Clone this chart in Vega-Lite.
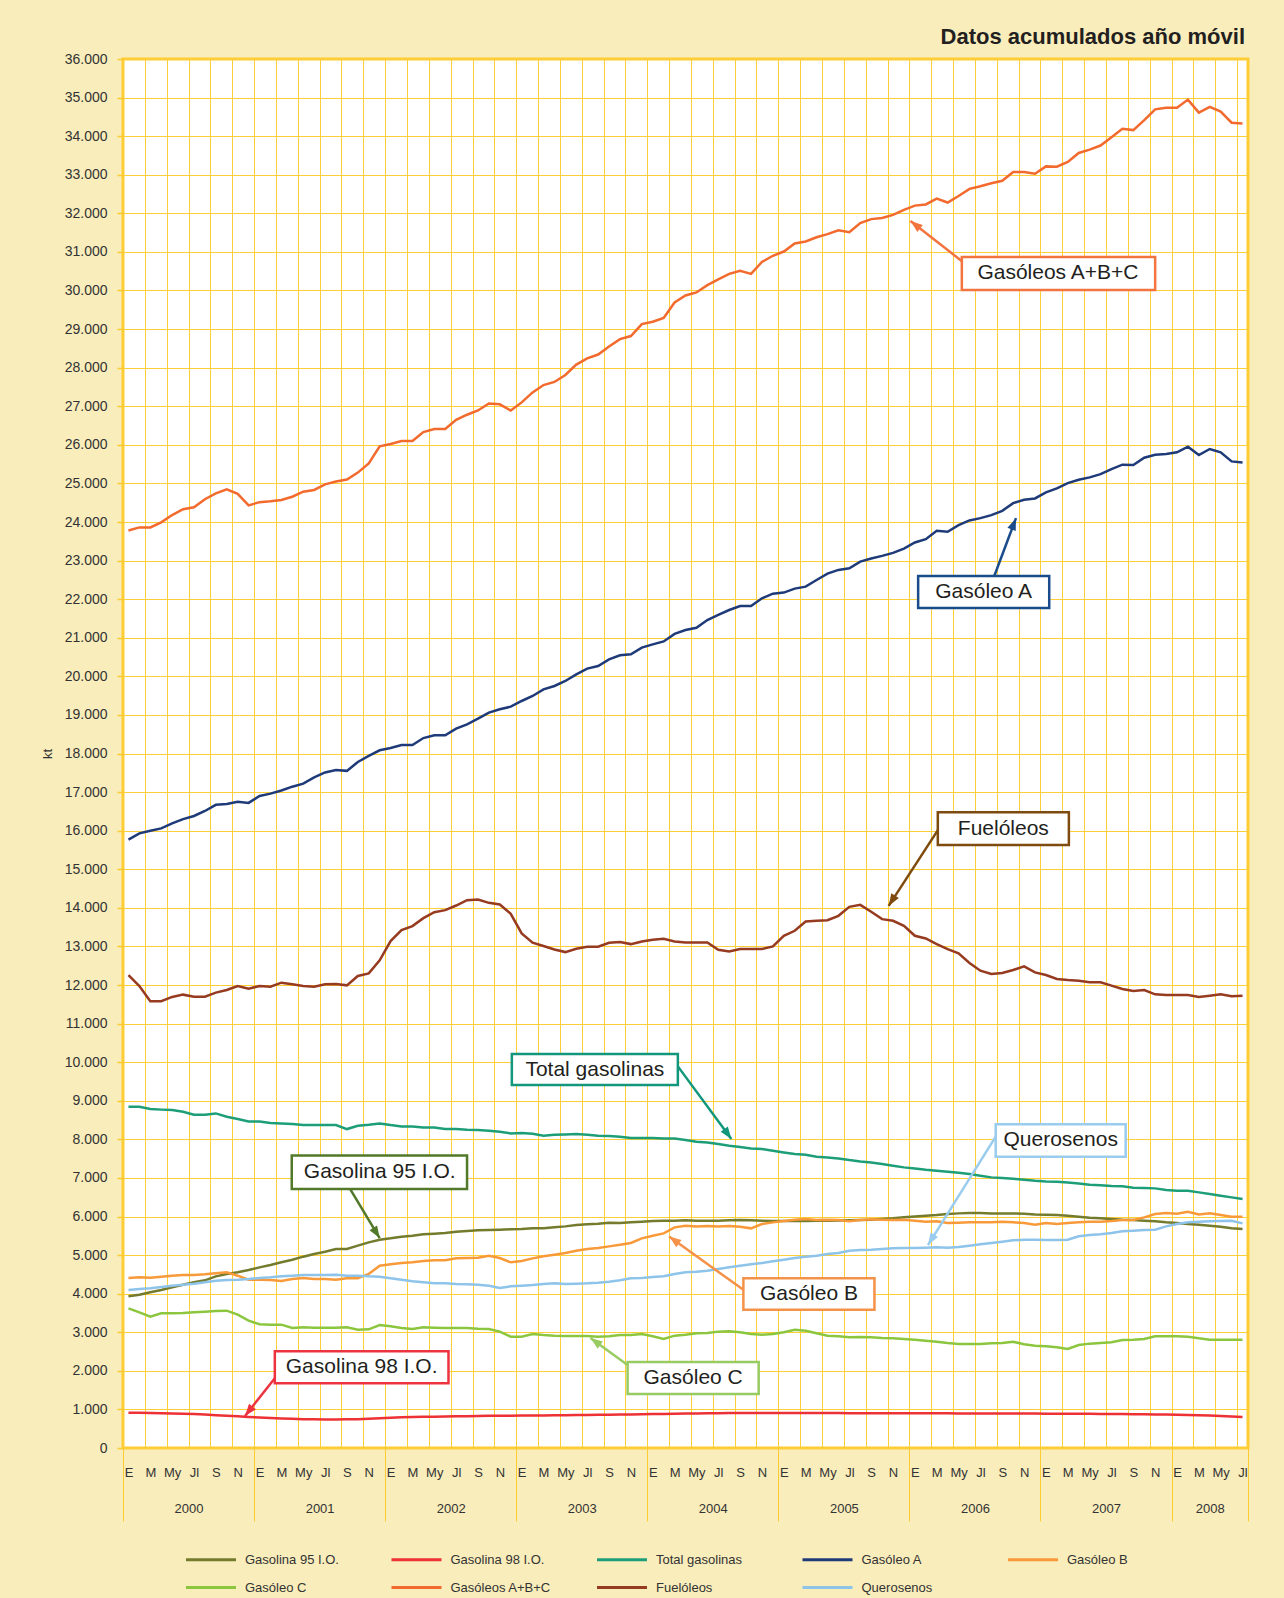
{
"$schema": "https://vega.github.io/schema/vega-lite/v6.json",
"width": 1125,
"height": 1389,
"autosize": {"type": "none"},
"padding": {"left": 123, "top": 59, "right": 36, "bottom": 150},
"background": "#F9EDBB",
"title": {"text": "Datos acumulados año móvil", "anchor": "end", "frame": "group", "font": "Liberation Sans", "fontSize": 22, "fontWeight": "bold", "color": "#231F20", "offset": 3, "dx": -3},
"config": {
  "view": {"fill": "white", "stroke": "#FFCC33", "strokeWidth": 3},
  "axis": {"labelFont": "Liberation Sans", "titleFont": "Liberation Sans", "labelColor": "#333333", "titleColor": "#333333"}
},
"datasets": {
"names": [
{"s":"g95","name":"Gasolina 95 I.O."},{"s":"g98","name":"Gasolina 98 I.O."},{"s":"tg","name":"Total gasolinas"},{"s":"ga","name":"Gasóleo A"},{"s":"gb","name":"Gasóleo B"},{"s":"gc","name":"Gasóleo C"},{"s":"abc","name":"Gasóleos A+B+C"},{"s":"fo","name":"Fuelóleos"},{"s":"q","name":"Querosenos"}
],
"notes": [
{"s":"abc","label":"Gasóleos A+B+C","bx0":76.3,"bx1":94.0,"by0":30010,"by1":30870,"tx":85.1,"ty":30450,"ax":76.4,"ay":30740,"hx":71.6,"hy":31800,"ang":307.7},
{"s":"ga","label":"Gasóleo A","bx0":72.3,"bx1":84.3,"by0":21770,"by1":22600,"tx":78.3,"ty":22190,"ax":79.2,"ay":22550,"hx":81.26,"hy":24100,"ang":21.5},
{"s":"fo","label":"Fuelóleos","bx0":74.1,"bx1":86.1,"by0":15630,"by1":16480,"tx":80.1,"ty":16040,"ax":74.3,"ay":16100,"hx":69.6,"hy":14050,"ang":212},
{"s":"tg","label":"Total gasolinas","bx0":35.1,"bx1":50.3,"by0":9410,"by1":10210,"tx":42.7,"ty":9800,"ax":50.2,"ay":9930,"hx":55.2,"hy":8010,"ang":144},
{"s":"q","label":"Querosenos","bx0":79.4,"bx1":91.3,"by0":7550,"by1":8390,"tx":85.35,"ty":7970,"ax":79.4,"ay":8070,"hx":73.2,"hy":5260,"ang":211.6},
{"s":"gb","label":"Gasóleo B","bx0":56.3,"bx1":68.3,"by0":3580,"by1":4400,"tx":62.3,"ty":3990,"ax":56.3,"ay":4100,"hx":49.5,"hy":5480,"ang":306},
{"s":"g95","label":"Gasolina 95 I.O.","bx0":14.95,"bx1":31.0,"by0":6710,"by1":7580,"tx":23.0,"ty":7150,"ax":20.3,"ay":6710,"hx":23.0,"hy":5440,"ang":148.3},
{"s":"g98","label":"Gasolina 98 I.O.","bx0":13.4,"bx1":29.3,"by0":1680,"by1":2510,"tx":21.35,"ty":2100,"ax":13.4,"ay":1810,"hx":10.67,"hy":830,"ang":218.3},
{"s":"gc","label":"Gasóleo C","bx0":45.7,"bx1":57.7,"by0":1400,"by1":2230,"tx":51.7,"ty":1810,"ax":45.7,"ay":2150,"hx":42.3,"hy":2850,"ang":305.8}
],
"lines": [
{"i":0,"s":"g95","v":3931},{"i":1,"s":"g95","v":3974},{"i":2,"s":"g95","v":4035},{"i":3,"s":"g95","v":4095},{"i":4,"s":"g95","v":4164},{"i":5,"s":"g95","v":4233},{"i":6,"s":"g95","v":4294},{"i":7,"s":"g95","v":4346},{"i":8,"s":"g95","v":4449},{"i":9,"s":"g95","v":4510},
{"i":10,"s":"g95","v":4553},{"i":11,"s":"g95","v":4613},{"i":12,"s":"g95","v":4682},{"i":13,"s":"g95","v":4743},{"i":14,"s":"g95","v":4812},{"i":15,"s":"g95","v":4881},{"i":16,"s":"g95","v":4959},{"i":17,"s":"g95","v":5028},{"i":18,"s":"g95","v":5088},{"i":19,"s":"g95","v":5157},
{"i":20,"s":"g95","v":5157},{"i":21,"s":"g95","v":5244},{"i":22,"s":"g95","v":5330},{"i":23,"s":"g95","v":5399},{"i":24,"s":"g95","v":5434},{"i":25,"s":"g95","v":5477},{"i":26,"s":"g95","v":5503},{"i":27,"s":"g95","v":5537},{"i":28,"s":"g95","v":5554},{"i":29,"s":"g95","v":5572},
{"i":30,"s":"g95","v":5606},{"i":31,"s":"g95","v":5624},{"i":32,"s":"g95","v":5641},{"i":33,"s":"g95","v":5650},{"i":34,"s":"g95","v":5658},{"i":35,"s":"g95","v":5667},{"i":36,"s":"g95","v":5675},{"i":37,"s":"g95","v":5693},{"i":38,"s":"g95","v":5693},{"i":39,"s":"g95","v":5719},
{"i":40,"s":"g95","v":5744},{"i":41,"s":"g95","v":5779},{"i":42,"s":"g95","v":5796},{"i":43,"s":"g95","v":5813},{"i":44,"s":"g95","v":5839},{"i":45,"s":"g95","v":5831},{"i":46,"s":"g95","v":5848},{"i":47,"s":"g95","v":5865},{"i":48,"s":"g95","v":5883},{"i":49,"s":"g95","v":5891},
{"i":50,"s":"g95","v":5891},{"i":51,"s":"g95","v":5900},{"i":52,"s":"g95","v":5891},{"i":53,"s":"g95","v":5891},{"i":54,"s":"g95","v":5891},{"i":55,"s":"g95","v":5900},{"i":56,"s":"g95","v":5908},{"i":57,"s":"g95","v":5900},{"i":58,"s":"g95","v":5891},{"i":59,"s":"g95","v":5885},
{"i":60,"s":"g95","v":5883},{"i":61,"s":"g95","v":5883},{"i":62,"s":"g95","v":5883},{"i":63,"s":"g95","v":5887},{"i":64,"s":"g95","v":5891},{"i":65,"s":"g95","v":5895},{"i":66,"s":"g95","v":5900},{"i":67,"s":"g95","v":5908},{"i":68,"s":"g95","v":5917},{"i":69,"s":"g95","v":5935},
{"i":70,"s":"g95","v":5952},{"i":71,"s":"g95","v":5978},{"i":72,"s":"g95","v":6003},{"i":73,"s":"g95","v":6021},{"i":74,"s":"g95","v":6038},{"i":75,"s":"g95","v":6064},{"i":76,"s":"g95","v":6081},{"i":77,"s":"g95","v":6090},{"i":78,"s":"g95","v":6090},{"i":79,"s":"g95","v":6081},
{"i":80,"s":"g95","v":6081},{"i":81,"s":"g95","v":6081},{"i":82,"s":"g95","v":6073},{"i":83,"s":"g95","v":6055},{"i":84,"s":"g95","v":6047},{"i":85,"s":"g95","v":6038},{"i":86,"s":"g95","v":6021},{"i":87,"s":"g95","v":5995},{"i":88,"s":"g95","v":5969},{"i":89,"s":"g95","v":5952},
{"i":90,"s":"g95","v":5935},{"i":91,"s":"g95","v":5917},{"i":92,"s":"g95","v":5908},{"i":93,"s":"g95","v":5891},{"i":94,"s":"g95","v":5874},{"i":95,"s":"g95","v":5848},{"i":96,"s":"g95","v":5831},{"i":97,"s":"g95","v":5805},{"i":98,"s":"g95","v":5788},{"i":99,"s":"g95","v":5762},
{"i":100,"s":"g95","v":5736},{"i":101,"s":"g95","v":5693},{"i":102,"s":"g95","v":5675},
{"i":0,"s":"g98","v":915},{"i":1,"s":"g98","v":912},{"i":2,"s":"g98","v":908},{"i":3,"s":"g98","v":902},{"i":4,"s":"g98","v":895},{"i":5,"s":"g98","v":888},{"i":6,"s":"g98","v":878},{"i":7,"s":"g98","v":866},{"i":8,"s":"g98","v":852},{"i":9,"s":"g98","v":838},
{"i":10,"s":"g98","v":822},{"i":11,"s":"g98","v":805},{"i":12,"s":"g98","v":790},{"i":13,"s":"g98","v":778},{"i":14,"s":"g98","v":765},{"i":15,"s":"g98","v":755},{"i":16,"s":"g98","v":748},{"i":17,"s":"g98","v":743},{"i":18,"s":"g98","v":740},{"i":19,"s":"g98","v":740},
{"i":20,"s":"g98","v":742},{"i":21,"s":"g98","v":745},{"i":22,"s":"g98","v":755},{"i":23,"s":"g98","v":770},{"i":24,"s":"g98","v":785},{"i":25,"s":"g98","v":795},{"i":26,"s":"g98","v":802},{"i":27,"s":"g98","v":808},{"i":28,"s":"g98","v":813},{"i":29,"s":"g98","v":818},
{"i":30,"s":"g98","v":822},{"i":31,"s":"g98","v":826},{"i":32,"s":"g98","v":830},{"i":33,"s":"g98","v":833},{"i":34,"s":"g98","v":836},{"i":35,"s":"g98","v":838},{"i":36,"s":"g98","v":840},{"i":37,"s":"g98","v":842},{"i":38,"s":"g98","v":845},{"i":39,"s":"g98","v":848},
{"i":40,"s":"g98","v":850},{"i":41,"s":"g98","v":853},{"i":42,"s":"g98","v":856},{"i":43,"s":"g98","v":860},{"i":44,"s":"g98","v":863},{"i":45,"s":"g98","v":867},{"i":46,"s":"g98","v":871},{"i":47,"s":"g98","v":875},{"i":48,"s":"g98","v":880},{"i":49,"s":"g98","v":884},
{"i":50,"s":"g98","v":888},{"i":51,"s":"g98","v":892},{"i":52,"s":"g98","v":896},{"i":53,"s":"g98","v":899},{"i":54,"s":"g98","v":902},{"i":55,"s":"g98","v":904},{"i":56,"s":"g98","v":905},{"i":57,"s":"g98","v":906},{"i":58,"s":"g98","v":906},{"i":59,"s":"g98","v":906},
{"i":60,"s":"g98","v":906},{"i":61,"s":"g98","v":905},{"i":62,"s":"g98","v":905},{"i":63,"s":"g98","v":905},{"i":64,"s":"g98","v":904},{"i":65,"s":"g98","v":904},{"i":66,"s":"g98","v":903},{"i":67,"s":"g98","v":903},{"i":68,"s":"g98","v":902},{"i":69,"s":"g98","v":902},
{"i":70,"s":"g98","v":901},{"i":71,"s":"g98","v":900},{"i":72,"s":"g98","v":900},{"i":73,"s":"g98","v":899},{"i":74,"s":"g98","v":898},{"i":75,"s":"g98","v":898},{"i":76,"s":"g98","v":897},{"i":77,"s":"g98","v":896},{"i":78,"s":"g98","v":895},{"i":79,"s":"g98","v":895},
{"i":80,"s":"g98","v":894},{"i":81,"s":"g98","v":893},{"i":82,"s":"g98","v":892},{"i":83,"s":"g98","v":891},{"i":84,"s":"g98","v":890},{"i":85,"s":"g98","v":889},{"i":86,"s":"g98","v":888},{"i":87,"s":"g98","v":887},{"i":88,"s":"g98","v":886},{"i":89,"s":"g98","v":884},
{"i":90,"s":"g98","v":882},{"i":91,"s":"g98","v":880},{"i":92,"s":"g98","v":877},{"i":93,"s":"g98","v":874},{"i":94,"s":"g98","v":870},{"i":95,"s":"g98","v":866},{"i":96,"s":"g98","v":861},{"i":97,"s":"g98","v":855},{"i":98,"s":"g98","v":848},{"i":99,"s":"g98","v":840},
{"i":100,"s":"g98","v":830},{"i":101,"s":"g98","v":818},{"i":102,"s":"g98","v":805},
{"i":0,"s":"tg","v":8845},{"i":1,"s":"tg","v":8845},{"i":2,"s":"tg","v":8784},{"i":3,"s":"tg","v":8770},{"i":4,"s":"tg","v":8758},{"i":5,"s":"tg","v":8715},{"i":6,"s":"tg","v":8637},{"i":7,"s":"tg","v":8637},{"i":8,"s":"tg","v":8672},{"i":9,"s":"tg","v":8585},
{"i":10,"s":"tg","v":8525},{"i":11,"s":"tg","v":8465},{"i":12,"s":"tg","v":8465},{"i":13,"s":"tg","v":8421},{"i":14,"s":"tg","v":8413},{"i":15,"s":"tg","v":8396},{"i":16,"s":"tg","v":8370},{"i":17,"s":"tg","v":8370},{"i":18,"s":"tg","v":8370},{"i":19,"s":"tg","v":8370},
{"i":20,"s":"tg","v":8266},{"i":21,"s":"tg","v":8352},{"i":22,"s":"tg","v":8378},{"i":23,"s":"tg","v":8413},{"i":24,"s":"tg","v":8370},{"i":25,"s":"tg","v":8335},{"i":26,"s":"tg","v":8335},{"i":27,"s":"tg","v":8309},{"i":28,"s":"tg","v":8309},{"i":29,"s":"tg","v":8266},
{"i":30,"s":"tg","v":8266},{"i":31,"s":"tg","v":8249},{"i":32,"s":"tg","v":8240},{"i":33,"s":"tg","v":8223},{"i":34,"s":"tg","v":8197},{"i":35,"s":"tg","v":8154},{"i":36,"s":"tg","v":8162},{"i":37,"s":"tg","v":8145},{"i":38,"s":"tg","v":8093},{"i":39,"s":"tg","v":8119},
{"i":40,"s":"tg","v":8128},{"i":41,"s":"tg","v":8136},{"i":42,"s":"tg","v":8119},{"i":43,"s":"tg","v":8093},{"i":44,"s":"tg","v":8085},{"i":45,"s":"tg","v":8067},{"i":46,"s":"tg","v":8033},{"i":47,"s":"tg","v":8033},{"i":48,"s":"tg","v":8033},{"i":49,"s":"tg","v":8024},
{"i":50,"s":"tg","v":8024},{"i":51,"s":"tg","v":7981},{"i":52,"s":"tg","v":7938},{"i":53,"s":"tg","v":7920},{"i":54,"s":"tg","v":7880},{"i":55,"s":"tg","v":7834},{"i":56,"s":"tg","v":7800},{"i":57,"s":"tg","v":7765},{"i":58,"s":"tg","v":7748},{"i":59,"s":"tg","v":7705},
{"i":60,"s":"tg","v":7661},{"i":61,"s":"tg","v":7618},{"i":62,"s":"tg","v":7601},{"i":63,"s":"tg","v":7549},{"i":64,"s":"tg","v":7532},{"i":65,"s":"tg","v":7506},{"i":66,"s":"tg","v":7463},{"i":67,"s":"tg","v":7428},{"i":68,"s":"tg","v":7402},{"i":69,"s":"tg","v":7359},
{"i":70,"s":"tg","v":7316},{"i":71,"s":"tg","v":7273},{"i":72,"s":"tg","v":7247},{"i":73,"s":"tg","v":7212},{"i":74,"s":"tg","v":7187},{"i":75,"s":"tg","v":7161},{"i":76,"s":"tg","v":7135},{"i":77,"s":"tg","v":7100},{"i":78,"s":"tg","v":7057},{"i":79,"s":"tg","v":7014},
{"i":80,"s":"tg","v":6997},{"i":81,"s":"tg","v":6979},{"i":82,"s":"tg","v":6953},{"i":83,"s":"tg","v":6927},{"i":84,"s":"tg","v":6910},{"i":85,"s":"tg","v":6901},{"i":86,"s":"tg","v":6884},{"i":87,"s":"tg","v":6858},{"i":88,"s":"tg","v":6824},{"i":89,"s":"tg","v":6807},
{"i":90,"s":"tg","v":6789},{"i":91,"s":"tg","v":6781},{"i":92,"s":"tg","v":6746},{"i":93,"s":"tg","v":6738},{"i":94,"s":"tg","v":6729},{"i":95,"s":"tg","v":6686},{"i":96,"s":"tg","v":6668},{"i":97,"s":"tg","v":6668},{"i":98,"s":"tg","v":6625},{"i":99,"s":"tg","v":6582},
{"i":100,"s":"tg","v":6539},{"i":101,"s":"tg","v":6496},{"i":102,"s":"tg","v":6452},
{"i":0,"s":"ga","v":15770},{"i":1,"s":"ga","v":15930},{"i":2,"s":"ga","v":16000},{"i":3,"s":"ga","v":16060},{"i":4,"s":"ga","v":16190},{"i":5,"s":"ga","v":16300},{"i":6,"s":"ga","v":16380},{"i":7,"s":"ga","v":16510},{"i":8,"s":"ga","v":16670},{"i":9,"s":"ga","v":16690},
{"i":10,"s":"ga","v":16750},{"i":11,"s":"ga","v":16720},{"i":12,"s":"ga","v":16900},{"i":13,"s":"ga","v":16960},{"i":14,"s":"ga","v":17040},{"i":15,"s":"ga","v":17140},{"i":16,"s":"ga","v":17220},{"i":17,"s":"ga","v":17380},{"i":18,"s":"ga","v":17510},{"i":19,"s":"ga","v":17570},
{"i":20,"s":"ga","v":17550},{"i":21,"s":"ga","v":17781},{"i":22,"s":"ga","v":17936},{"i":23,"s":"ga","v":18083},{"i":24,"s":"ga","v":18143},{"i":25,"s":"ga","v":18221},{"i":26,"s":"ga","v":18221},{"i":27,"s":"ga","v":18400},{"i":28,"s":"ga","v":18472},{"i":29,"s":"ga","v":18472},
{"i":30,"s":"ga","v":18644},{"i":31,"s":"ga","v":18756},{"i":32,"s":"ga","v":18903},{"i":33,"s":"ga","v":19059},{"i":34,"s":"ga","v":19145},{"i":35,"s":"ga","v":19214},{"i":36,"s":"ga","v":19361},{"i":37,"s":"ga","v":19490},{"i":38,"s":"ga","v":19663},{"i":39,"s":"ga","v":19750},
{"i":40,"s":"ga","v":19879},{"i":41,"s":"ga","v":20052},{"i":42,"s":"ga","v":20199},{"i":43,"s":"ga","v":20268},{"i":44,"s":"ga","v":20440},{"i":45,"s":"ga","v":20544},{"i":46,"s":"ga","v":20570},{"i":47,"s":"ga","v":20743},{"i":48,"s":"ga","v":20829},{"i":49,"s":"ga","v":20905},
{"i":50,"s":"ga","v":21100},{"i":51,"s":"ga","v":21200},{"i":52,"s":"ga","v":21260},{"i":53,"s":"ga","v":21459},{"i":54,"s":"ga","v":21590},{"i":55,"s":"ga","v":21719},{"i":56,"s":"ga","v":21823},{"i":57,"s":"ga","v":21823},{"i":58,"s":"ga","v":22022},{"i":59,"s":"ga","v":22143},
{"i":60,"s":"ga","v":22170},{"i":61,"s":"ga","v":22273},{"i":62,"s":"ga","v":22325},{"i":63,"s":"ga","v":22498},{"i":64,"s":"ga","v":22662},{"i":65,"s":"ga","v":22758},{"i":66,"s":"ga","v":22801},{"i":67,"s":"ga","v":22974},{"i":68,"s":"ga","v":23052},{"i":69,"s":"ga","v":23121},
{"i":70,"s":"ga","v":23200},{"i":71,"s":"ga","v":23312},{"i":72,"s":"ga","v":23468},{"i":73,"s":"ga","v":23554},{"i":74,"s":"ga","v":23771},{"i":75,"s":"ga","v":23745},{"i":76,"s":"ga","v":23918},{"i":77,"s":"ga","v":24040},{"i":78,"s":"ga","v":24100},{"i":79,"s":"ga","v":24178},
{"i":80,"s":"ga","v":24290},{"i":81,"s":"ga","v":24489},{"i":82,"s":"ga","v":24576},{"i":83,"s":"ga","v":24610},{"i":84,"s":"ga","v":24766},{"i":85,"s":"ga","v":24870},{"i":86,"s":"ga","v":25009},{"i":87,"s":"ga","v":25095},{"i":88,"s":"ga","v":25156},{"i":89,"s":"ga","v":25242},
{"i":90,"s":"ga","v":25372},{"i":91,"s":"ga","v":25485},{"i":92,"s":"ga","v":25476},{"i":93,"s":"ga","v":25667},{"i":94,"s":"ga","v":25745},{"i":95,"s":"ga","v":25762},{"i":96,"s":"ga","v":25805},{"i":97,"s":"ga","v":25952},{"i":98,"s":"ga","v":25736},{"i":99,"s":"ga","v":25892},
{"i":100,"s":"ga","v":25805},{"i":101,"s":"ga","v":25571},{"i":102,"s":"ga","v":25545},
{"i":0,"s":"gb","v":4406},{"i":1,"s":"gb","v":4423},{"i":2,"s":"gb","v":4415},{"i":3,"s":"gb","v":4440},{"i":4,"s":"gb","v":4466},{"i":5,"s":"gb","v":4484},{"i":6,"s":"gb","v":4484},{"i":7,"s":"gb","v":4501},{"i":8,"s":"gb","v":4527},{"i":9,"s":"gb","v":4553},
{"i":10,"s":"gb","v":4466},{"i":11,"s":"gb","v":4363},{"i":12,"s":"gb","v":4363},{"i":13,"s":"gb","v":4354},{"i":14,"s":"gb","v":4328},{"i":15,"s":"gb","v":4380},{"i":16,"s":"gb","v":4406},{"i":17,"s":"gb","v":4380},{"i":18,"s":"gb","v":4380},{"i":19,"s":"gb","v":4363},
{"i":20,"s":"gb","v":4397},{"i":21,"s":"gb","v":4397},{"i":22,"s":"gb","v":4510},{"i":23,"s":"gb","v":4726},{"i":24,"s":"gb","v":4760},{"i":25,"s":"gb","v":4795},{"i":26,"s":"gb","v":4812},{"i":27,"s":"gb","v":4846},{"i":28,"s":"gb","v":4864},{"i":29,"s":"gb","v":4864},
{"i":30,"s":"gb","v":4915},{"i":31,"s":"gb","v":4924},{"i":32,"s":"gb","v":4933},{"i":33,"s":"gb","v":4985},{"i":34,"s":"gb","v":4924},{"i":35,"s":"gb","v":4812},{"i":36,"s":"gb","v":4846},{"i":37,"s":"gb","v":4915},{"i":38,"s":"gb","v":4967},{"i":39,"s":"gb","v":5010},
{"i":40,"s":"gb","v":5054},{"i":41,"s":"gb","v":5114},{"i":42,"s":"gb","v":5157},{"i":43,"s":"gb","v":5183},{"i":44,"s":"gb","v":5226},{"i":45,"s":"gb","v":5269},{"i":46,"s":"gb","v":5313},{"i":47,"s":"gb","v":5434},{"i":48,"s":"gb","v":5503},{"i":49,"s":"gb","v":5563},
{"i":50,"s":"gb","v":5719},{"i":51,"s":"gb","v":5762},{"i":52,"s":"gb","v":5744},{"i":53,"s":"gb","v":5753},{"i":54,"s":"gb","v":5744},{"i":55,"s":"gb","v":5753},{"i":56,"s":"gb","v":5736},{"i":57,"s":"gb","v":5693},{"i":58,"s":"gb","v":5805},{"i":59,"s":"gb","v":5848},
{"i":60,"s":"gb","v":5883},{"i":61,"s":"gb","v":5917},{"i":62,"s":"gb","v":5935},{"i":63,"s":"gb","v":5908},{"i":64,"s":"gb","v":5917},{"i":65,"s":"gb","v":5908},{"i":66,"s":"gb","v":5874},{"i":67,"s":"gb","v":5908},{"i":68,"s":"gb","v":5926},{"i":69,"s":"gb","v":5917},
{"i":70,"s":"gb","v":5908},{"i":71,"s":"gb","v":5917},{"i":72,"s":"gb","v":5891},{"i":73,"s":"gb","v":5865},{"i":74,"s":"gb","v":5874},{"i":75,"s":"gb","v":5831},{"i":76,"s":"gb","v":5839},{"i":77,"s":"gb","v":5848},{"i":78,"s":"gb","v":5848},{"i":79,"s":"gb","v":5848},
{"i":80,"s":"gb","v":5865},{"i":81,"s":"gb","v":5848},{"i":82,"s":"gb","v":5831},{"i":83,"s":"gb","v":5788},{"i":84,"s":"gb","v":5831},{"i":85,"s":"gb","v":5805},{"i":86,"s":"gb","v":5831},{"i":87,"s":"gb","v":5848},{"i":88,"s":"gb","v":5865},{"i":89,"s":"gb","v":5865},
{"i":90,"s":"gb","v":5883},{"i":91,"s":"gb","v":5908},{"i":92,"s":"gb","v":5908},{"i":93,"s":"gb","v":5978},{"i":94,"s":"gb","v":6064},{"i":95,"s":"gb","v":6090},{"i":96,"s":"gb","v":6073},{"i":97,"s":"gb","v":6124},{"i":98,"s":"gb","v":6055},{"i":99,"s":"gb","v":6081},
{"i":100,"s":"gb","v":6038},{"i":101,"s":"gb","v":5995},{"i":102,"s":"gb","v":5995},
{"i":0,"s":"gc","v":3620},{"i":1,"s":"gc","v":3516},{"i":2,"s":"gc","v":3404},{"i":3,"s":"gc","v":3490},{"i":4,"s":"gc","v":3490},{"i":5,"s":"gc","v":3499},{"i":6,"s":"gc","v":3516},{"i":7,"s":"gc","v":3534},{"i":8,"s":"gc","v":3551},{"i":9,"s":"gc","v":3560},
{"i":10,"s":"gc","v":3456},{"i":11,"s":"gc","v":3301},{"i":12,"s":"gc","v":3206},{"i":13,"s":"gc","v":3197},{"i":14,"s":"gc","v":3197},{"i":15,"s":"gc","v":3111},{"i":16,"s":"gc","v":3128},{"i":17,"s":"gc","v":3119},{"i":18,"s":"gc","v":3119},{"i":19,"s":"gc","v":3119},
{"i":20,"s":"gc","v":3128},{"i":21,"s":"gc","v":3067},{"i":22,"s":"gc","v":3076},{"i":23,"s":"gc","v":3188},{"i":24,"s":"gc","v":3154},{"i":25,"s":"gc","v":3111},{"i":26,"s":"gc","v":3085},{"i":27,"s":"gc","v":3128},{"i":28,"s":"gc","v":3119},{"i":29,"s":"gc","v":3111},
{"i":30,"s":"gc","v":3111},{"i":31,"s":"gc","v":3111},{"i":32,"s":"gc","v":3093},{"i":33,"s":"gc","v":3085},{"i":34,"s":"gc","v":3016},{"i":35,"s":"gc","v":2886},{"i":36,"s":"gc","v":2886},{"i":37,"s":"gc","v":2955},{"i":38,"s":"gc","v":2929},{"i":39,"s":"gc","v":2912},
{"i":40,"s":"gc","v":2903},{"i":41,"s":"gc","v":2903},{"i":42,"s":"gc","v":2903},{"i":43,"s":"gc","v":2886},{"i":44,"s":"gc","v":2895},{"i":45,"s":"gc","v":2929},{"i":46,"s":"gc","v":2929},{"i":47,"s":"gc","v":2955},{"i":48,"s":"gc","v":2895},{"i":49,"s":"gc","v":2826},
{"i":50,"s":"gc","v":2912},{"i":51,"s":"gc","v":2938},{"i":52,"s":"gc","v":2972},{"i":53,"s":"gc","v":2981},{"i":54,"s":"gc","v":3016},{"i":55,"s":"gc","v":3024},{"i":56,"s":"gc","v":2998},{"i":57,"s":"gc","v":2955},{"i":58,"s":"gc","v":2938},{"i":59,"s":"gc","v":2955},
{"i":60,"s":"gc","v":2998},{"i":61,"s":"gc","v":3067},{"i":62,"s":"gc","v":3041},{"i":63,"s":"gc","v":2972},{"i":64,"s":"gc","v":2912},{"i":65,"s":"gc","v":2895},{"i":66,"s":"gc","v":2869},{"i":67,"s":"gc","v":2877},{"i":68,"s":"gc","v":2869},{"i":69,"s":"gc","v":2851},
{"i":70,"s":"gc","v":2843},{"i":71,"s":"gc","v":2826},{"i":72,"s":"gc","v":2808},{"i":73,"s":"gc","v":2782},{"i":74,"s":"gc","v":2756},{"i":75,"s":"gc","v":2722},{"i":76,"s":"gc","v":2696},{"i":77,"s":"gc","v":2696},{"i":78,"s":"gc","v":2696},{"i":79,"s":"gc","v":2713},
{"i":80,"s":"gc","v":2722},{"i":81,"s":"gc","v":2756},{"i":82,"s":"gc","v":2687},{"i":83,"s":"gc","v":2653},{"i":84,"s":"gc","v":2636},{"i":85,"s":"gc","v":2610},{"i":86,"s":"gc","v":2567},{"i":87,"s":"gc","v":2670},{"i":88,"s":"gc","v":2705},{"i":89,"s":"gc","v":2722},
{"i":90,"s":"gc","v":2739},{"i":91,"s":"gc","v":2800},{"i":92,"s":"gc","v":2808},{"i":93,"s":"gc","v":2826},{"i":94,"s":"gc","v":2895},{"i":95,"s":"gc","v":2895},{"i":96,"s":"gc","v":2895},{"i":97,"s":"gc","v":2886},{"i":98,"s":"gc","v":2843},{"i":99,"s":"gc","v":2808},
{"i":100,"s":"gc","v":2808},{"i":101,"s":"gc","v":2808},{"i":102,"s":"gc","v":2808},
{"i":0,"s":"abc","v":23780},{"i":1,"s":"abc","v":23860},{"i":2,"s":"abc","v":23860},{"i":3,"s":"abc","v":23990},{"i":4,"s":"abc","v":24180},{"i":5,"s":"abc","v":24330},{"i":6,"s":"abc","v":24380},{"i":7,"s":"abc","v":24590},{"i":8,"s":"abc","v":24740},{"i":9,"s":"abc","v":24845},
{"i":10,"s":"abc","v":24730},{"i":11,"s":"abc","v":24430},{"i":12,"s":"abc","v":24515},{"i":13,"s":"abc","v":24535},{"i":14,"s":"abc","v":24570},{"i":15,"s":"abc","v":24655},{"i":16,"s":"abc","v":24785},{"i":17,"s":"abc","v":24830},{"i":18,"s":"abc","v":24975},{"i":19,"s":"abc","v":25050},
{"i":20,"s":"abc","v":25100},{"i":21,"s":"abc","v":25280},{"i":22,"s":"abc","v":25520},{"i":23,"s":"abc","v":25960},{"i":24,"s":"abc","v":26020},{"i":25,"s":"abc","v":26100},{"i":26,"s":"abc","v":26100},{"i":27,"s":"abc","v":26330},{"i":28,"s":"abc","v":26410},{"i":29,"s":"abc","v":26410},
{"i":30,"s":"abc","v":26650},{"i":31,"s":"abc","v":26780},{"i":32,"s":"abc","v":26890},{"i":33,"s":"abc","v":27070},{"i":34,"s":"abc","v":27050},{"i":35,"s":"abc","v":26890},{"i":36,"s":"abc","v":27100},{"i":37,"s":"abc","v":27360},{"i":38,"s":"abc","v":27550},{"i":39,"s":"abc","v":27630},
{"i":40,"s":"abc","v":27810},{"i":41,"s":"abc","v":28080},{"i":42,"s":"abc","v":28240},{"i":43,"s":"abc","v":28340},{"i":44,"s":"abc","v":28550},{"i":45,"s":"abc","v":28740},{"i":46,"s":"abc","v":28820},{"i":47,"s":"abc","v":29130},{"i":48,"s":"abc","v":29190},{"i":49,"s":"abc","v":29290},
{"i":50,"s":"abc","v":29690},{"i":51,"s":"abc","v":29870},{"i":52,"s":"abc","v":29950},{"i":53,"s":"abc","v":30140},{"i":54,"s":"abc","v":30290},{"i":55,"s":"abc","v":30430},{"i":56,"s":"abc","v":30510},{"i":57,"s":"abc","v":30430},{"i":58,"s":"abc","v":30740},{"i":59,"s":"abc","v":30900},
{"i":60,"s":"abc","v":31010},{"i":61,"s":"abc","v":31220},{"i":62,"s":"abc","v":31270},{"i":63,"s":"abc","v":31380},{"i":64,"s":"abc","v":31460},{"i":65,"s":"abc","v":31560},{"i":66,"s":"abc","v":31510},{"i":67,"s":"abc","v":31750},{"i":68,"s":"abc","v":31850},{"i":69,"s":"abc","v":31880},
{"i":70,"s":"abc","v":31960},{"i":71,"s":"abc","v":32090},{"i":72,"s":"abc","v":32200},{"i":73,"s":"abc","v":32230},{"i":74,"s":"abc","v":32380},{"i":75,"s":"abc","v":32280},{"i":76,"s":"abc","v":32450},{"i":77,"s":"abc","v":32635},{"i":78,"s":"abc","v":32700},{"i":79,"s":"abc","v":32780},
{"i":80,"s":"abc","v":32843},{"i":81,"s":"abc","v":33070},{"i":82,"s":"abc","v":33070},{"i":83,"s":"abc","v":33026},{"i":84,"s":"abc","v":33217},{"i":85,"s":"abc","v":33209},{"i":86,"s":"abc","v":33330},{"i":87,"s":"abc","v":33565},{"i":88,"s":"abc","v":33652},{"i":89,"s":"abc","v":33757},
{"i":90,"s":"abc","v":33974},{"i":91,"s":"abc","v":34191},{"i":92,"s":"abc","v":34157},{"i":93,"s":"abc","v":34417},{"i":94,"s":"abc","v":34696},{"i":95,"s":"abc","v":34739},{"i":96,"s":"abc","v":34739},{"i":97,"s":"abc","v":34948},{"i":98,"s":"abc","v":34609},{"i":99,"s":"abc","v":34757},
{"i":100,"s":"abc","v":34635},{"i":101,"s":"abc","v":34348},{"i":102,"s":"abc","v":34330},
{"i":0,"s":"fo","v":12259},{"i":1,"s":"fo","v":11974},{"i":2,"s":"fo","v":11578},{"i":3,"s":"fo","v":11578},{"i":4,"s":"fo","v":11690},{"i":5,"s":"fo","v":11750},{"i":6,"s":"fo","v":11698},{"i":7,"s":"fo","v":11698},{"i":8,"s":"fo","v":11802},{"i":9,"s":"fo","v":11871},
{"i":10,"s":"fo","v":11974},{"i":11,"s":"fo","v":11905},{"i":12,"s":"fo","v":11974},{"i":13,"s":"fo","v":11957},{"i":14,"s":"fo","v":12060},{"i":15,"s":"fo","v":12017},{"i":16,"s":"fo","v":11974},{"i":17,"s":"fo","v":11957},{"i":18,"s":"fo","v":12017},{"i":19,"s":"fo","v":12026},
{"i":20,"s":"fo","v":11991},{"i":21,"s":"fo","v":12233},{"i":22,"s":"fo","v":12302},{"i":23,"s":"fo","v":12638},{"i":24,"s":"fo","v":13138},{"i":25,"s":"fo","v":13422},{"i":26,"s":"fo","v":13526},{"i":27,"s":"fo","v":13733},{"i":28,"s":"fo","v":13888},{"i":29,"s":"fo","v":13940},
{"i":30,"s":"fo","v":14060},{"i":31,"s":"fo","v":14198},{"i":32,"s":"fo","v":14216},{"i":33,"s":"fo","v":14129},{"i":34,"s":"fo","v":14086},{"i":35,"s":"fo","v":13845},{"i":36,"s":"fo","v":13336},{"i":37,"s":"fo","v":13095},{"i":38,"s":"fo","v":13009},{"i":39,"s":"fo","v":12922},
{"i":40,"s":"fo","v":12853},{"i":41,"s":"fo","v":12940},{"i":42,"s":"fo","v":12991},{"i":43,"s":"fo","v":12991},{"i":44,"s":"fo","v":13095},{"i":45,"s":"fo","v":13112},{"i":46,"s":"fo","v":13060},{"i":47,"s":"fo","v":13129},{"i":48,"s":"fo","v":13172},{"i":49,"s":"fo","v":13198},
{"i":50,"s":"fo","v":13129},{"i":51,"s":"fo","v":13103},{"i":52,"s":"fo","v":13103},{"i":53,"s":"fo","v":13103},{"i":54,"s":"fo","v":12914},{"i":55,"s":"fo","v":12871},{"i":56,"s":"fo","v":12931},{"i":57,"s":"fo","v":12931},{"i":58,"s":"fo","v":12931},{"i":59,"s":"fo","v":13000},
{"i":60,"s":"fo","v":13276},{"i":61,"s":"fo","v":13405},{"i":62,"s":"fo","v":13647},{"i":63,"s":"fo","v":13664},{"i":64,"s":"fo","v":13681},{"i":65,"s":"fo","v":13793},{"i":66,"s":"fo","v":14026},{"i":67,"s":"fo","v":14078},{"i":68,"s":"fo","v":13897},{"i":69,"s":"fo","v":13707},
{"i":70,"s":"fo","v":13664},{"i":71,"s":"fo","v":13534},{"i":72,"s":"fo","v":13276},{"i":73,"s":"fo","v":13207},{"i":74,"s":"fo","v":13060},{"i":75,"s":"fo","v":12931},{"i":76,"s":"fo","v":12819},{"i":77,"s":"fo","v":12569},{"i":78,"s":"fo","v":12371},{"i":79,"s":"fo","v":12284},
{"i":80,"s":"fo","v":12310},{"i":81,"s":"fo","v":12388},{"i":82,"s":"fo","v":12483},{"i":83,"s":"fo","v":12328},{"i":84,"s":"fo","v":12259},{"i":85,"s":"fo","v":12155},{"i":86,"s":"fo","v":12129},{"i":87,"s":"fo","v":12112},{"i":88,"s":"fo","v":12069},{"i":89,"s":"fo","v":12069},
{"i":90,"s":"fo","v":11983},{"i":91,"s":"fo","v":11897},{"i":92,"s":"fo","v":11845},{"i":93,"s":"fo","v":11871},{"i":94,"s":"fo","v":11759},{"i":95,"s":"fo","v":11741},{"i":96,"s":"fo","v":11741},{"i":97,"s":"fo","v":11741},{"i":98,"s":"fo","v":11690},{"i":99,"s":"fo","v":11724},
{"i":100,"s":"fo","v":11759},{"i":101,"s":"fo","v":11707},{"i":102,"s":"fo","v":11724},
{"i":0,"s":"q","v":4095},{"i":1,"s":"q","v":4121},{"i":2,"s":"q","v":4138},{"i":3,"s":"q","v":4173},{"i":4,"s":"q","v":4207},{"i":5,"s":"q","v":4233},{"i":6,"s":"q","v":4259},{"i":7,"s":"q","v":4294},{"i":8,"s":"q","v":4337},{"i":9,"s":"q","v":4354},
{"i":10,"s":"q","v":4363},{"i":11,"s":"q","v":4380},{"i":12,"s":"q","v":4406},{"i":13,"s":"q","v":4423},{"i":14,"s":"q","v":4449},{"i":15,"s":"q","v":4466},{"i":16,"s":"q","v":4484},{"i":17,"s":"q","v":4484},{"i":18,"s":"q","v":4484},{"i":19,"s":"q","v":4492},
{"i":20,"s":"q","v":4466},{"i":21,"s":"q","v":4466},{"i":22,"s":"q","v":4449},{"i":23,"s":"q","v":4440},{"i":24,"s":"q","v":4397},{"i":25,"s":"q","v":4363},{"i":26,"s":"q","v":4320},{"i":27,"s":"q","v":4294},{"i":28,"s":"q","v":4268},{"i":29,"s":"q","v":4268},
{"i":30,"s":"q","v":4250},{"i":31,"s":"q","v":4242},{"i":32,"s":"q","v":4233},{"i":33,"s":"q","v":4207},{"i":34,"s":"q","v":4147},{"i":35,"s":"q","v":4190},{"i":36,"s":"q","v":4207},{"i":37,"s":"q","v":4224},{"i":38,"s":"q","v":4250},{"i":39,"s":"q","v":4268},
{"i":40,"s":"q","v":4250},{"i":41,"s":"q","v":4259},{"i":42,"s":"q","v":4268},{"i":43,"s":"q","v":4285},{"i":44,"s":"q","v":4311},{"i":45,"s":"q","v":4346},{"i":46,"s":"q","v":4397},{"i":47,"s":"q","v":4406},{"i":48,"s":"q","v":4432},{"i":49,"s":"q","v":4449},
{"i":50,"s":"q","v":4510},{"i":51,"s":"q","v":4553},{"i":52,"s":"q","v":4570},{"i":53,"s":"q","v":4596},{"i":54,"s":"q","v":4639},{"i":55,"s":"q","v":4682},{"i":56,"s":"q","v":4726},{"i":57,"s":"q","v":4760},{"i":58,"s":"q","v":4795},{"i":59,"s":"q","v":4838},
{"i":60,"s":"q","v":4881},{"i":61,"s":"q","v":4924},{"i":62,"s":"q","v":4959},{"i":63,"s":"q","v":4985},{"i":64,"s":"q","v":5028},{"i":65,"s":"q","v":5054},{"i":66,"s":"q","v":5114},{"i":67,"s":"q","v":5131},{"i":68,"s":"q","v":5140},{"i":69,"s":"q","v":5157},
{"i":70,"s":"q","v":5174},{"i":71,"s":"q","v":5183},{"i":72,"s":"q","v":5183},{"i":73,"s":"q","v":5192},{"i":74,"s":"q","v":5200},{"i":75,"s":"q","v":5192},{"i":76,"s":"q","v":5209},{"i":77,"s":"q","v":5244},{"i":78,"s":"q","v":5278},{"i":79,"s":"q","v":5313},
{"i":80,"s":"q","v":5347},{"i":81,"s":"q","v":5382},{"i":82,"s":"q","v":5399},{"i":83,"s":"q","v":5399},{"i":84,"s":"q","v":5390},{"i":85,"s":"q","v":5390},{"i":86,"s":"q","v":5399},{"i":87,"s":"q","v":5486},{"i":88,"s":"q","v":5520},{"i":89,"s":"q","v":5537},
{"i":90,"s":"q","v":5572},{"i":91,"s":"q","v":5615},{"i":92,"s":"q","v":5632},{"i":93,"s":"q","v":5650},{"i":94,"s":"q","v":5658},{"i":95,"s":"q","v":5744},{"i":96,"s":"q","v":5805},{"i":97,"s":"q","v":5848},{"i":98,"s":"q","v":5865},{"i":99,"s":"q","v":5874},
{"i":100,"s":"q","v":5883},{"i":101,"s":"q","v":5891},{"i":102,"s":"q","v":5822}
]
},
"resolve": {"axis": {"x": "independent", "y": "independent"}},
"layer": [
{
  "data": {"name": "lines"},
  "transform": [{"lookup": "s", "from": {"data": {"name": "names"}, "key": "s", "fields": ["name"]}}],
  "mark": {"type": "line", "strokeWidth": 2.5},
  "encoding": {
    "x": {"field": "i", "type": "quantitative", "scale": {"domain": [-0.5, 102.5], "nice": false, "zero": false},
      "axis": {"orient": "bottom", "title": null, "values": [-0.5,1.5,3.5,5.5,7.5,9.5,11.5,13.5,15.5,17.5,19.5,21.5,23.5,25.5,27.5,29.5,31.5,33.5,35.5,37.5,39.5,41.5,43.5,45.5,47.5,49.5,51.5,53.5,55.5,57.5,59.5,61.5,63.5,65.5,67.5,69.5,71.5,73.5,75.5,77.5,79.5,81.5,83.5,85.5,87.5,89.5,91.5,93.5,95.5,97.5,99.5,101.5], "grid": true, "gridColor": "#FCCF3A", "gridWidth": 1, "gridOpacity": 1, "labels": false, "ticks": false, "domain": false}},
    "y": {"field": "v", "type": "quantitative", "title": "kt", "scale": {"domain": [0, 36000], "nice": false, "zero": true},
      "axis": {"orient": "left", "values": [0,1000,2000,3000,4000,5000,6000,7000,8000,9000,10000,11000,12000,13000,14000,15000,16000,17000,18000,19000,20000,21000,22000,23000,24000,25000,26000,27000,28000,29000,30000,31000,32000,33000,34000,35000,36000],
        "labelExpr": "replace(format(datum.value, ','), ',', '.')", "labelFontSize": 14, "labelPadding": 10, "tickSize": 6, "tickColor": "#FCCB30", "tickWidth": 1.5, "domain": false, "grid": true, "gridColor": "#FCCF3A", "gridWidth": 1, "gridOpacity": 1,
        "titleFontSize": 13, "titleFontWeight": "normal", "titlePadding": 10}},
    "color": {"field": "name", "type": "nominal",
      "scale": {"domain": ["Gasolina 95 I.O.", "Gasolina 98 I.O.", "Total gasolinas", "Gasóleo A", "Gasóleo B", "Gasóleo C", "Gasóleos A+B+C", "Fuelóleos", "Querosenos"],
                "range": ["#747B2D", "#EE3134", "#1E9E78", "#1F3A78", "#F89A3A", "#8CC63F", "#F26A2D", "#963A20", "#8EC3EA"]},
      "legend": {"title": null, "orient": "none", "legendX": 81.5, "legendY": 1494, "direction": "horizontal", "columns": 5, "gridAlign": "all", "columnPadding": 39.5, "rowPadding": 14, "padding": 0,
        "symbolType": "M-10,0H10", "symbolSize": 25, "symbolStrokeWidth": 3, "labelFont": "Liberation Sans", "labelFontSize": 13, "labelColor": "#333333", "labelOffset": 27.5, "labelLimit": 300}}
  }
},
{
  "data": {"name": "notes"},
  "mark": {"type": "rule", "strokeWidth": 2.5},
  "encoding": {
    "x": {"field": "ax", "type": "quantitative", "scale": {"domain": [-0.5, 102.5], "nice": false, "zero": false},
      "axis": {"orient": "bottom", "title": null, "values": [-0.5,11.5,23.5,35.5,47.5,59.5,71.5,83.5,95.5,102.5], "labels": false, "grid": false, "domain": false, "ticks": true, "tickSize": 73, "tickColor": "#FCCB30", "tickWidth": 1}},
    "y": {"field": "ay", "type": "quantitative", "scale": {"domain": [0, 36000], "nice": false, "zero": true}, "axis": null},
    "x2": {"field": "hx"},
    "y2": {"field": "hy"},
    "stroke": {"field": "s", "type": "nominal", "scale": {"domain": ["g95","g98","tg","ga","gb","gc","abc","fo","q"], "range": ["#52782A","#EE3340","#12977C","#1A4C8C","#F5924A","#98CC62","#F47440","#7F4A0E","#99CCEE"]}, "legend": null}
  }
},
{
  "data": {"name": "notes"},
  "mark": {"type": "point", "filled": true, "opacity": 1, "size": 260, "shape": "M0,0L0.55,1.5L-0.55,1.5Z"},
  "encoding": {
    "x": {"field": "hx", "type": "quantitative", "scale": {"domain": [-0.5, 102.5], "nice": false, "zero": false}, "axis": null},
    "y": {"field": "hy", "type": "quantitative", "scale": {"domain": [0, 36000], "nice": false, "zero": true}, "axis": null},
    "angle": {"field": "ang", "type": "quantitative", "scale": null},
    "fill": {"field": "s", "type": "nominal", "scale": {"domain": ["g95","g98","tg","ga","gb","gc","abc","fo","q"], "range": ["#52782A","#EE3340","#12977C","#1A4C8C","#F5924A","#98CC62","#F47440","#7F4A0E","#99CCEE"]}, "legend": null}
  }
},
{
  "data": {"name": "notes"},
  "mark": {"type": "rect", "fill": "white", "strokeWidth": 2.5},
  "encoding": {
    "x": {"field": "bx0", "type": "quantitative", "scale": {"domain": [-0.5, 102.5], "nice": false, "zero": false},
      "axis": {"orient": "bottom", "title": null, "values": [0,2,4,6,8,10,12,14,16,18,20,22,24,26,28,30,32,34,36,38,40,42,44,46,48,50,52,54,56,58,60,62,64,66,68,70,72,74,76,78,80,82,84,86,88,90,92,94,96,98,100,102],
        "labelExpr": "['E','','M','','My','','Jl','','S','','N',''][datum.value % 12]", "labelFontSize": 13, "labelPadding": 18, "labelFlush": false, "labelOverlap": false, "grid": false, "ticks": false, "tickSize": 0, "domain": false}},
    "x2": {"field": "bx1"},
    "y": {"field": "by0", "type": "quantitative", "scale": {"domain": [0, 36000], "nice": false, "zero": true}, "axis": null},
    "y2": {"field": "by1"},
    "stroke": {"field": "s", "type": "nominal", "scale": {"domain": ["g95","g98","tg","ga","gb","gc","abc","fo","q"], "range": ["#52782A","#EE3340","#12977C","#1A4C8C","#F5924A","#98CC62","#F47440","#7F4A0E","#99CCEE"]}, "legend": null}
  }
},
{
  "data": {"name": "notes"},
  "mark": {"type": "text", "font": "Liberation Sans", "fontSize": 21, "color": "#231F20", "align": "center", "baseline": "middle"},
  "encoding": {
    "x": {"field": "tx", "type": "quantitative", "scale": {"domain": [-0.5, 102.5], "nice": false, "zero": false},
      "axis": {"orient": "bottom", "title": null, "values": [5.5,17.5,29.5,41.5,53.5,65.5,77.5,89.5,99],
        "labelExpr": "datum.value > 95 ? '2008' : '' + (2000 + floor(datum.value / 12))", "labelFontSize": 13, "labelPadding": 54, "labelFlush": false, "labelOverlap": false, "grid": false, "ticks": false, "tickSize": 0, "domain": false}},
    "y": {"field": "ty", "type": "quantitative", "scale": {"domain": [0, 36000], "nice": false, "zero": true}, "axis": null},
    "text": {"field": "label"}
  }
}
]
}
